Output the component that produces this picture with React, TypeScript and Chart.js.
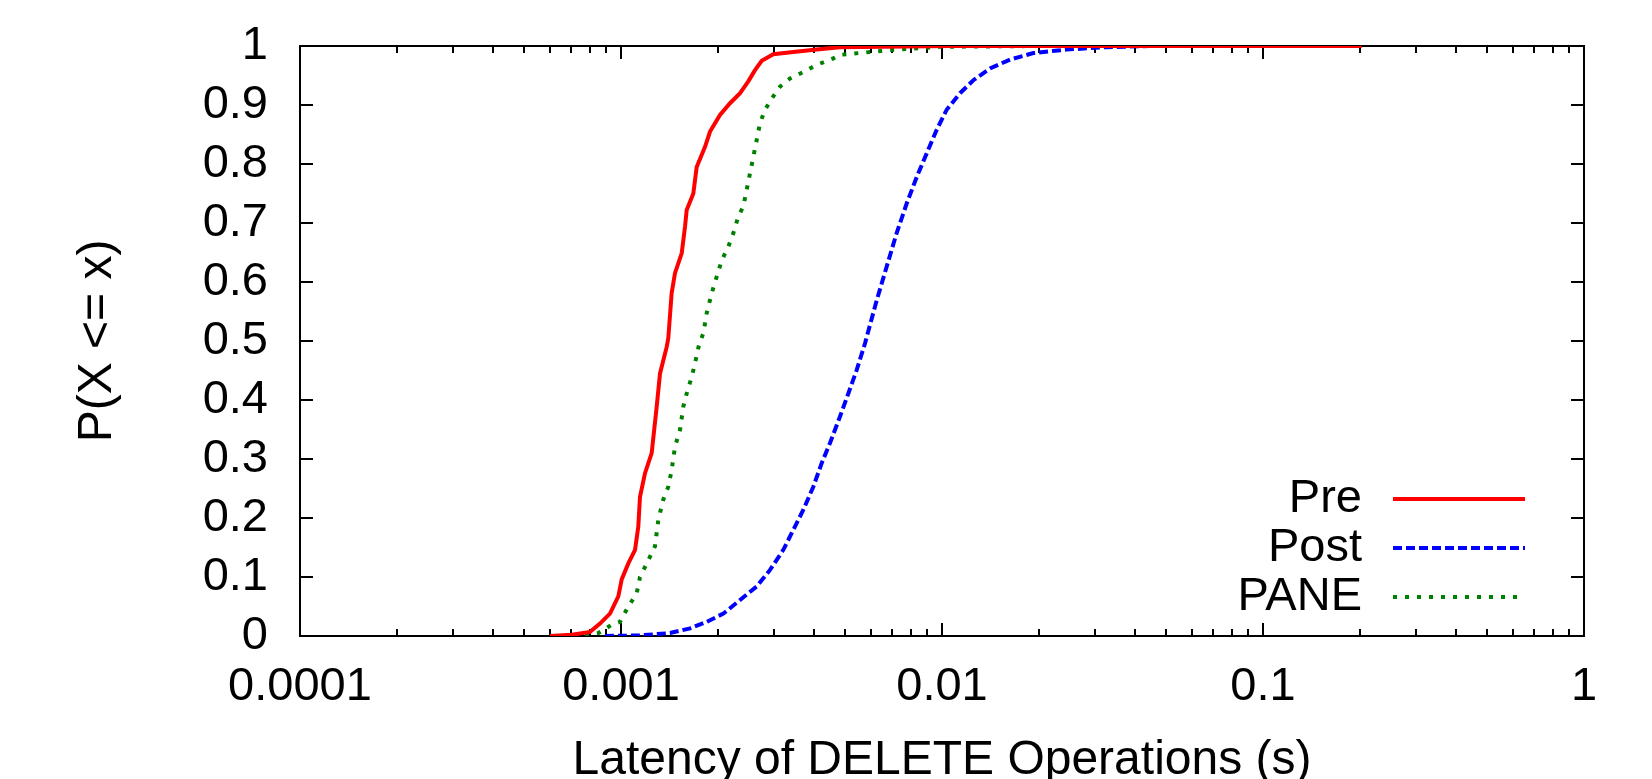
import React, { useEffect, useRef } from "react";
import { Chart, registerables } from "chart.js";

Chart.register(...registerables);

// ---- Axis definitions ----
const xTickValues = [0.0001, 0.001, 0.01, 0.1, 1];
const xTickLabels = ["0.0001", "0.001", "0.01", "0.1", "1"];
const xMinorMultipliers = [2, 3, 4, 5, 6, 7, 8, 9];
const yTickValues = [0, 0.1, 0.2, 0.3, 0.4, 0.5, 0.6, 0.7, 0.8, 0.9, 1];
const yTickLabels = ["0", "0.1", "0.2", "0.3", "0.4", "0.5", "0.6", "0.7", "0.8", "0.9", "1"];
const xAxisTitle = "Latency of DELETE Operations (s)";
const yAxisTitle = "P(X <= x)";
const seriesNames = ["Pre", "Post", "PANE"];

// ---- Series: Pre ----
const preLatency = [
  6.01e-4, 7.02e-4, 8.01e-4, 8.6e-4, 9.24e-4, 9.81e-4, 1.005e-3, 1.054e-3, 1.106e-3,
  1.132e-3, 1.146e-3, 1.188e-3, 1.246e-3, 1.292e-3, 1.323e-3, 1.388e-3, 1.404e-3,
  1.438e-3, 1.473e-3, 1.546e-3, 1.583e-3, 1.602e-3, 1.68e-3, 1.721e-3, 1.827e-3,
  1.894e-3, 2.034e-3, 2.186e-3, 2.349e-3, 2.492e-3, 2.615e-3, 2.744e-3, 2.982e-3,
  3.443e-3, 4.071e-3, 4.811e-3, 1.06e-2, 0.203,
];
const preCdf = [
  0, 0.002, 0.007, 0.021, 0.038, 0.067, 0.096, 0.123, 0.146,
  0.185, 0.236, 0.276, 0.31, 0.389, 0.445, 0.49, 0.505,
  0.581, 0.615, 0.649, 0.694, 0.722, 0.75, 0.795, 0.829,
  0.855, 0.883, 0.903, 0.92, 0.94, 0.959, 0.975, 0.986,
  0.99, 0.994, 0.998, 1, 1,
];

// ---- Series: Post ----
const postLatency = [
  8.91e-4, 1.146e-3, 1.421e-3, 1.641e-3, 1.849e-3, 2.084e-3, 2.349e-3, 2.647e-3,
  2.912e-3, 3.204e-3, 3.443e-3, 3.699e-3, 3.973e-3, 4.219e-3, 4.478e-3, 4.811e-3,
  5.107e-3, 5.424e-3, 5.756e-3, 6.261e-3, 6.724e-3, 7.224e-3, 7.762e-3, 8.342e-3,
  8.961e-3, 9.627e-3, 1.034e-2, 1.138e-2, 1.252e-2, 1.411e-2, 1.629e-2, 1.925e-2,
  2.446e-2, 3.26e-2, 4.446e-2, 0.203,
];
const postCdf = [
  0, 0.001, 0.005, 0.013, 0.024, 0.038, 0.061, 0.084,
  0.112, 0.146, 0.18, 0.214, 0.253, 0.293, 0.327, 0.372,
  0.411, 0.451, 0.496, 0.569, 0.626, 0.683, 0.733, 0.778,
  0.818, 0.858, 0.892, 0.92, 0.942, 0.962, 0.977, 0.988,
  0.994, 0.998, 1, 1,
];

// ---- Series: PANE ----
const paneLatency = [
  7.09e-4, 8.5e-4, 9.35e-4, 9.93e-4, 1.054e-3, 1.119e-3, 1.146e-3, 1.203e-3, 1.276e-3,
  1.307e-3, 1.354e-3, 1.404e-3, 1.438e-3, 1.473e-3, 1.527e-3, 1.564e-3, 1.602e-3,
  1.66e-3, 1.7e-3, 1.754e-3, 1.805e-3, 1.849e-3, 1.917e-3, 1.987e-3, 2.06e-3,
  2.16e-3, 2.239e-3, 2.32e-3, 2.404e-3, 2.463e-3, 2.522e-3, 2.583e-3, 2.647e-3,
  2.71e-3, 2.81e-3, 2.948e-3, 3.128e-3, 3.361e-3, 3.699e-3, 4.071e-3, 4.586e-3,
  4.811e-3, 6.887e-3, 9.86e-3, 2.0e-2, 0.203,
];
const paneCdf = [
  0, 0.005, 0.019, 0.024, 0.05, 0.072, 0.1, 0.123, 0.152,
  0.197, 0.231, 0.253, 0.281, 0.321, 0.349, 0.389, 0.411,
  0.439, 0.462, 0.496, 0.513, 0.547, 0.581, 0.609, 0.637,
  0.66, 0.683, 0.711, 0.728, 0.756, 0.784, 0.812, 0.841,
  0.869, 0.892, 0.911, 0.931, 0.945, 0.956, 0.968, 0.979,
  0.985, 0.993, 0.9986, 1, 1,
];

const FONT = '"Liberation Sans", Arial, Helvetica, sans-serif';
const COLORS = ["#ff0000", "#0000ff", "#008000"];
const DASHES: number[][] = [[], [9, 4], [4, 8]];

function toPoints(xs: number[], ys: number[]) {
  return xs.map((x, i) => ({ x, y: ys[i] }));
}

const framePlugin = {
  id: "gnuplotFrame",
  beforeDatasetsDraw(chart: any) {
    const { ctx, chartArea } = chart;
    const { left, right, top, bottom } = chartArea;
    const xs = chart.scales.x;
    const ys = chart.scales.y;
    ctx.save();
    ctx.strokeStyle = "#000";
    ctx.lineWidth = 2;
    ctx.setLineDash([]);
    ctx.strokeRect(left, top, right - left, bottom - top);
    ctx.beginPath();
    for (const v of yTickValues) {
      const py = Math.round(ys.getPixelForValue(v));
      ctx.moveTo(left, py);
      ctx.lineTo(left + 13, py);
      ctx.moveTo(right, py);
      ctx.lineTo(right - 13, py);
    }
    xTickValues.forEach((d, i) => {
      const px = Math.round(xs.getPixelForValue(d));
      ctx.moveTo(px, bottom);
      ctx.lineTo(px, bottom - 13);
      ctx.moveTo(px, top);
      ctx.lineTo(px, top + 13);
      if (i < xTickValues.length - 1) {
        for (const m of xMinorMultipliers) {
          const mx = Math.round(xs.getPixelForValue(d * m));
          ctx.moveTo(mx, bottom);
          ctx.lineTo(mx, bottom - 7);
          ctx.moveTo(mx, top);
          ctx.lineTo(mx, top + 7);
        }
      }
    });
    ctx.stroke();
    ctx.restore();
  },
};

const legendPlugin = {
  id: "gnuplotLegend",
  afterDatasetsDraw(chart: any) {
    const { ctx, chartArea } = chart;
    const { right, bottom } = chartArea;
    const rowOffsets = [137, 88, 39];
    ctx.save();
    ctx.font = `47px ${FONT}`;
    ctx.fillStyle = "#000";
    ctx.textAlign = "right";
    ctx.textBaseline = "middle";
    chart.data.datasets.forEach((ds: any, i: number) => {
      const y = bottom - rowOffsets[i];
      ctx.fillText(ds.label, right - 222, y);
      ctx.beginPath();
      ctx.strokeStyle = ds.borderColor;
      ctx.lineWidth = 4;
      ctx.setLineDash(ds.borderDash || []);
      ctx.moveTo(right - 191, y);
      ctx.lineTo(right - 59, y);
      ctx.stroke();
    });
    ctx.restore();
  },
};

export default function App() {
  const canvasRef = useRef<HTMLCanvasElement | null>(null);

  useEffect(() => {
    const canvas = canvasRef.current;
    if (!canvas) return;
    const seriesX = [preLatency, postLatency, paneLatency];
    const seriesY = [preCdf, postCdf, paneCdf];
    const chart = new Chart(canvas, {
      type: "line",
      data: {
        datasets: seriesNames.map((name, i) => ({
          label: name,
          data: toPoints(seriesX[i], seriesY[i]),
          borderColor: COLORS[i],
          backgroundColor: COLORS[i],
          borderWidth: 4,
          borderDash: DASHES[i],
          pointRadius: 0,
          tension: 0,
          fill: false,
        })),
      },
      options: {
        responsive: false,
        animation: false,
        parsing: false as any,
        layout: { padding: { left: 0, top: 46, right: 68, bottom: 0 } },
        plugins: {
          legend: { display: false },
          tooltip: { enabled: false },
        },
        scales: {
          x: {
            type: "logarithmic",
            min: 0.0001,
            max: 1,
            grid: {
              display: true,
              drawOnChartArea: false,
              drawTicks: true,
              tickLength: 28,
              color: "rgba(0,0,0,0)",
              tickColor: "rgba(0,0,0,0)",
            },
            border: { display: false },
            afterBuildTicks: (scale: any) => {
              scale.ticks = xTickValues.map((v) => ({ value: v }));
            },
            afterFit: (scale: any) => {
              scale.height = 143;
            },
            ticks: {
              autoSkip: false,
              maxRotation: 0,
              minRotation: 0,
              padding: 0,
              color: "#000",
              font: { family: FONT, size: 47, lineHeight: 1 },
              callback: (_v: any, idx: number) => xTickLabels[idx],
            },
            title: {
              display: true,
              text: xAxisTitle,
              color: "#000",
              font: { family: FONT, size: 48, lineHeight: 1 },
              padding: { top: 0, bottom: -6 },
            },
          },
          y: {
            type: "linear",
            min: 0,
            max: 1,
            grid: {
              display: true,
              drawOnChartArea: false,
              drawTicks: true,
              tickLength: 32,
              color: "rgba(0,0,0,0)",
              tickColor: "rgba(0,0,0,0)",
            },
            border: { display: false },
            afterBuildTicks: (scale: any) => {
              scale.ticks = yTickValues.map((v) => ({ value: v }));
            },
            afterFit: (scale: any) => {
              scale.width = 300;
            },
            ticks: {
              autoSkip: false,
              padding: 0,
              color: "#000",
              font: { family: FONT, size: 47, lineHeight: 1 },
              callback: (_v: any, idx: number) => yTickLabels[idx],
            },
            title: {
              display: true,
              text: yAxisTitle,
              color: "#000",
              font: { family: FONT, size: 48, lineHeight: 1 },
              padding: { top: 74, bottom: 0 },
            },
          },
        },
      },
      plugins: [framePlugin, legendPlugin],
    });
    return () => chart.destroy();
  }, []);

  return (
    <canvas
      ref={canvasRef}
      width={1652}
      height={779}
      style={{ position: "absolute", left: 0, top: 0, width: 1652, height: 779, display: "block", background: "#fff" }}
    />
  );
}
